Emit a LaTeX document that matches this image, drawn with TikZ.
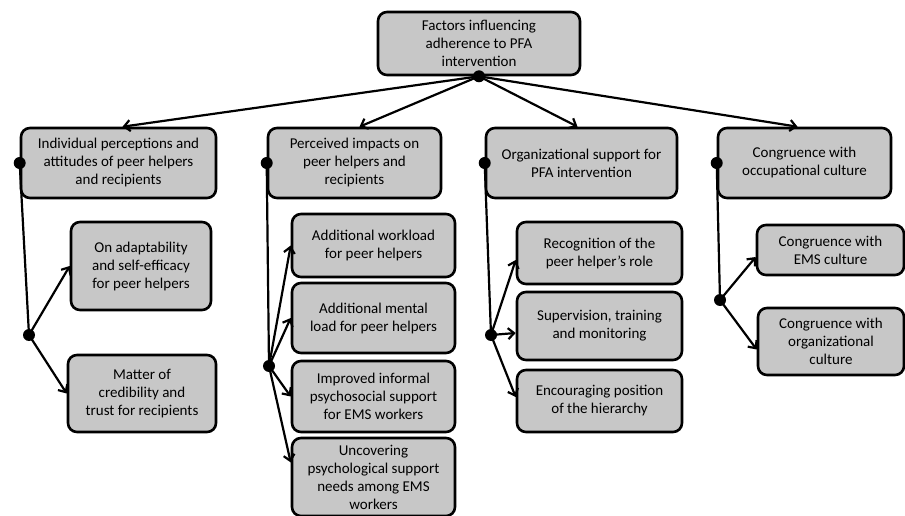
\documentclass[tikz,border=0pt]{standalone}
\usepackage{fontspec}
\setmainfont{Carlito}
\usetikzlibrary{calc,arrows.meta}

\begin{document}
\begin{tikzpicture}[x=1pt,y=-1pt]
% Boxes, dots and arrows.
\tikzstyle{box}=[draw,line width=2.6pt,rounded corners=9pt,fill=black!22,
align=center,inner sep=2pt,font=\fontsize{15}{18}\selectfont]
\tikzstyle{dot}=[circle,fill,inner sep=0pt,minimum size=12pt]
\tikzstyle{link}=[line width=2.2pt,-{Straight Barb[length=6pt,width=11pt,line width=2.2pt]}]

\useasboundingbox (0,0) rectangle (905,516);

% This draws the main box.
\node[box,minimum width=202pt,minimum height=63pt] (root) at (479,43.5)
 {Factors influencing\\adherence to PFA\\intervention};

% This draws the four themes.
\node[box,minimum width=195pt,minimum height=70pt] (indiv) at (118.5,163)
 {Individual perceptions and\\attitudes of peer helpers\\and recipients};
\node[box,minimum width=173pt,minimum height=70pt] (impact) at (354.5,163)
 {Perceived impacts on\\peer helpers and\\recipients};
\node[box,minimum width=191pt,minimum height=70pt] (orga) at (581.5,163)
 {Organizational support for\\PFA intervention};
\node[box,minimum width=173pt,minimum height=70pt] (cult) at (804.5,163)
 {Congruence with\\occupational culture};

% This draws the sub-themes.
\node[box,minimum width=140pt,minimum height=88pt] (adapt) at (141,266)
 {On adaptability\\and self-efficacy\\for peer helpers};
\node[box,minimum width=148pt,minimum height=77pt] (trust) at (142,393.5)
 {Matter of\\credibility and\\trust for recipients};

\node[box,minimum width=163pt,minimum height=63pt] (work) at (373.5,245.5)
 {Additional workload\\for peer helpers};
\node[box,minimum width=163pt,minimum height=70pt] (mental) at (373.5,318)
 {Additional mental\\load for peer helpers};
\node[box,minimum width=163pt,minimum height=71pt] (improved) at (373.5,396.5)
 {Improved informal\\psychosocial support\\for EMS workers};
\node[box,minimum width=163pt,minimum height=78pt] (needs) at (373.5,477)
 {Uncovering\\psychological support\\needs among EMS\\workers};

\node[box,minimum width=165pt,minimum height=62pt] (recog) at (599.5,253)
 {Recognition of the\\peer helper’s role};
\node[box,minimum width=165pt,minimum height=68pt] (superv) at (599.5,326)
 {Supervision, training\\and monitoring};
\node[box,minimum width=165pt,minimum height=62pt] (hier) at (599.5,401)
 {Encouraging position\\of the hierarchy};

\node[box,minimum width=147pt,minimum height=50pt] (ems) at (830.5,250)
 {Congruence with\\EMS culture};
\node[box,minimum width=146pt,minimum height=67pt] (orgcult) at (831,341.5)
 {Congruence with\\organizational\\culture};

% This draws the dots.
\node[dot] (rootdot) at (root.south) {};
\node[dot] (indivdot) at (indiv.west) {};
\node[dot] (impactdot) at (impact.west) {};
\node[dot] (orgadot) at (orga.west) {};
\node[dot] (cultdot) at (cult.west) {};
\node[dot] (indivhub) at (29,335) {};
\node[dot] (impacthub) at (269,366) {};
\node[dot] (orgahub) at (491,335) {};
\node[dot] (culthub) at (720,300) {};

% This draws the arrows from the top.
\draw[link] (rootdot.center) -- ($(indiv.north)+(4,0)$);
\draw[link] (rootdot.center) -- ($(impact.north)+(5,0)$);
\draw[link] (rootdot.center) -- ($(orga.north)+(-4,0)$);
\draw[link] (rootdot.center) -- ($(cult.north)+(-7,0)$);

% This draws the branches.
\draw[line width=2.2pt] (indivdot.center) -- (indivhub.center);
\draw[line width=2.2pt] (impactdot.center) -- (impacthub.center);
\draw[line width=2.2pt] (orgadot.center) -- (orgahub.center);
\draw[line width=2.2pt] (cultdot.center) -- (culthub.center);

\draw[link] (indivhub.center) -- (adapt.west);
\draw[link] (indivhub.center) -- (trust.west);

\draw[link] (impacthub.center) -- (work.west);
\draw[link] (impacthub.center) -- (mental.west);
\draw[link] (impacthub.center) -- (improved.west);
\draw[link] (impacthub.center) -- (needs.170);

\draw[link] (orgahub.center) -- ($(recog.west)+(0,7)$);
\draw[link] (orgahub.center) -- ($(superv.west)+(0,7)$);
\draw[link] (orgahub.center) -- ($(hier.west)+(0,-4)$);

\draw[link] (culthub.center) -- ($(ems.west)+(0,7)$);
\draw[link] (culthub.center) -- ($(orgcult.west)+(0,8)$);

\end{tikzpicture}
\end{document}
